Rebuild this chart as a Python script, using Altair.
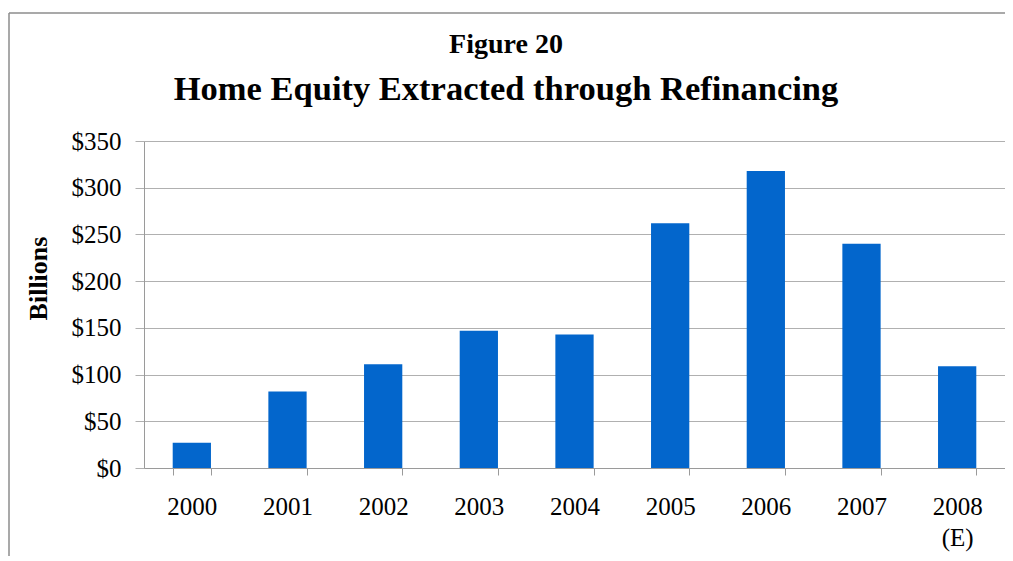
import altair as alt
import pandas as pd

years = ["2000", "2001", "2002", "2003", "2004", "2005", "2006", "2007", "2008"]
values = [27, 82, 111, 147, 143, 262, 318, 240, 109]
y_ticks = [0, 50, 100, 150, 200, 250, 300, 350]
fig_label = "Figure 20"
main_title = "Home Equity Extracted through Refinancing"

df = pd.DataFrame({"year": years, "value": values})

FONT = "Liberation Serif"
one = alt.Data(values=[{}])

bars = alt.Chart(df).mark_bar(color="#0366CC").encode(
    x=alt.X(
        "year:N",
        sort=years,
        title=None,
        scale=alt.Scale(paddingInner=0.6, paddingOuter=0.3),
        axis=alt.Axis(
            labelAngle=0,
            tickBand="extent",
            tickSize=7,
            labelPadding=19,
            labelFont=FONT,
            labelFontSize=25,
            labelColor="#000000",
            labelLineHeight=31,
            labelExpr="datum.value == '2008' ? ['2008', '(E)'] : datum.value",
            domainColor="#9a9a9a",
            tickColor="#9a9a9a",
            grid=False,
        ),
    ),
    y=alt.Y(
        "value:Q",
        scale=alt.Scale(domain=[0, 350], nice=False),
        title="Billions",
        axis=alt.Axis(
            values=y_ticks,
            labelExpr="'$' + datum.value",
            labelFont=FONT,
            labelFontSize=25,
            labelColor="#000000",
            labelPadding=14,
            tickSize=9,
            tickColor="#b0b0b0",
            domainColor="#9a9a9a",
            gridColor="#b0b0b0",
            gridWidth=1.2,
            titleFont=FONT,
            titleFontSize=26,
            titleFontWeight="bold",
            titleColor="#000000",
            titleAngle=270,
            titleAlign="center",
            titleBaseline="middle",
            titleX=-106,
            titleY=137,
        ),
    ),
)

# chart frame (top and left edges visible in the reference)
border = alt.Chart(one).mark_line(color="#8c8c8c", strokeWidth=1.5, clip=False).encode(
    x=alt.value(-135), y=alt.value(-128)
)
border_top = alt.Chart(one).mark_rule(color="#8c8c8c", strokeWidth=1.5, clip=False).encode(
    x=alt.value(-135), x2=alt.value(861), y=alt.value(-128), y2=alt.value(-128)
)
border_left = alt.Chart(one).mark_rule(color="#8c8c8c", strokeWidth=1.5, clip=False).encode(
    x=alt.value(-135), x2=alt.value(-135), y=alt.value(-128), y2=alt.value(415)
)

title1 = alt.Chart(one).mark_text(
    text=fig_label, font=FONT, fontSize=28, fontWeight="bold", color="#000000",
    align="center", baseline="alphabetic", clip=False,
).encode(x=alt.value(362), y=alt.value(-88))

title2 = alt.Chart(one).mark_text(
    text=main_title, font=FONT, fontSize=34.5, fontWeight="bold", color="#000000",
    align="center", baseline="alphabetic", clip=False,
).encode(x=alt.value(362), y=alt.value(-41))

chart = alt.layer(border_top, border_left, title1, title2, bars).properties(
    width=861,
    height=327,
    autosize=alt.AutoSizeParams(type="none"),
    padding={"left": 136, "top": 133, "right": 0, "bottom": 88},
).configure_view(strokeWidth=0)

chart.save("out.html", embed_options={"renderer": "svg", "actions": False})
